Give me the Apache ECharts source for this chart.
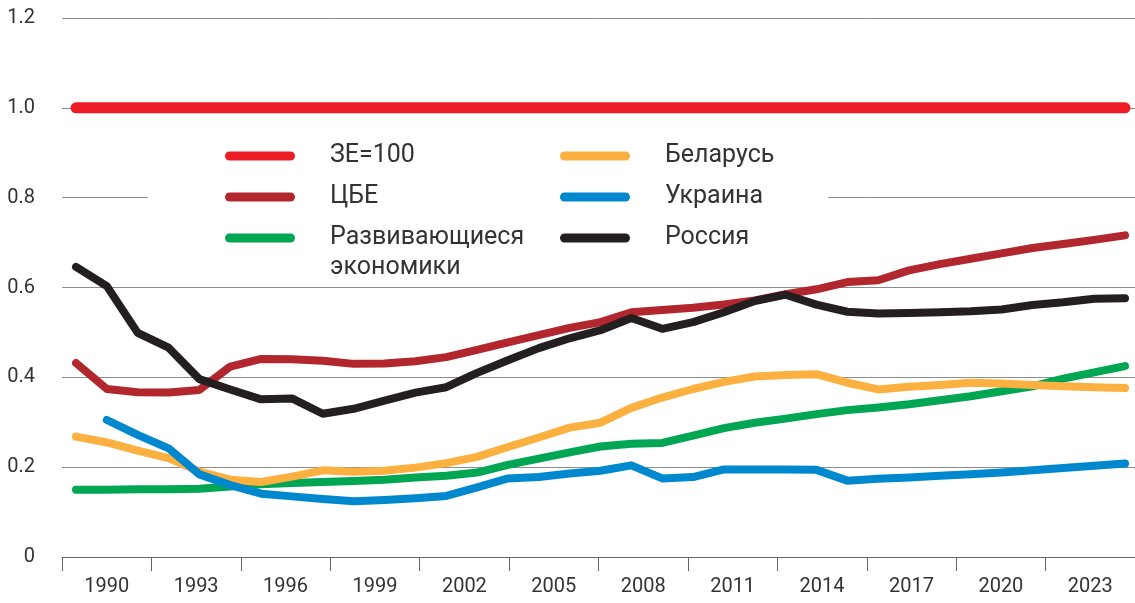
<!DOCTYPE html>
<html>
<head>
<meta charset="utf-8">
<script src="https://cdn.jsdelivr.net/npm/echarts@6/dist/echarts.min.js"></script>
<style>
  html, body { margin: 0; padding: 0; background: #fff; }
  #chart { width: 1135px; height: 603px; }
</style>
</head>
<body>
<div id="chart"></div>
<script>
// годы наблюдений
const years = [1990, 1991, 1992, 1993, 1994, 1995, 1996, 1997, 1998, 1999,
  2000, 2001, 2002, 2003, 2004, 2005, 2006, 2007, 2008, 2009,
  2010, 2011, 2012, 2013, 2014, 2015, 2016, 2017, 2018, 2019,
  2020, 2021, 2022, 2023, 2024]

// подписи оси X
const xTickLabels = ['1990', '1993', '1996', '1999', '2002', '2005',
  '2008', '2011', '2014', '2017', '2020', '2023']

const ze100 = [1, 1, 1, 1, 1, 1, 1, 1, 1, 1, 1, 1, 1, 1, 1, 1, 1, 1,
  1, 1, 1, 1, 1, 1, 1, 1, 1, 1, 1, 1, 1, 1, 1, 1, 1]

const cbe = [0.432, 0.374, 0.367, 0.366, 0.372, 0.424, 0.441, 0.440, 0.437, 0.430,
  0.431, 0.436, 0.445, 0.461, 0.478, 0.494, 0.510, 0.523, 0.545, 0.550,
  0.555, 0.562, 0.571, 0.585, 0.596, 0.612, 0.616, 0.638, 0.652, 0.664,
  0.676, 0.688, 0.697, 0.706, 0.716]

const developing = [0.150, 0.150, 0.151, 0.151, 0.152, 0.157, 0.162, 0.165, 0.167, 0.169,
  0.172, 0.177, 0.181, 0.188, 0.205, 0.219, 0.233, 0.246, 0.252, 0.254,
  0.270, 0.287, 0.299, 0.308, 0.318, 0.327, 0.333, 0.340, 0.349, 0.358,
  0.369, 0.380, 0.397, 0.411, 0.425]

const belarus = [0.268, 0.255, 0.237, 0.220, 0.190, 0.172, 0.167, 0.179, 0.193, 0.190,
  0.192, 0.199, 0.209, 0.223, 0.245, 0.266, 0.288, 0.299, 0.332, 0.355,
  0.374, 0.390, 0.402, 0.405, 0.407, 0.388, 0.373, 0.379, 0.383, 0.388,
  0.386, 0.383, 0.380, 0.378, 0.376]

const ukraine = [null, 0.305, 0.272, 0.242, 0.184, 0.160, 0.141, 0.135, 0.129, 0.124,
  0.127, 0.131, 0.136, 0.155, 0.175, 0.178, 0.186, 0.192, 0.204, 0.175,
  0.178, 0.195, 0.195, 0.195, 0.194, 0.170, 0.174, 0.177, 0.181, 0.184,
  0.188, 0.193, 0.198, 0.203, 0.208]

const russia = [0.646, 0.603, 0.499, 0.466, 0.396, 0.373, 0.351, 0.353, 0.319, 0.330,
  0.348, 0.366, 0.378, 0.410, 0.438, 0.465, 0.487, 0.505, 0.532, 0.508,
  0.523, 0.545, 0.570, 0.584, 0.562, 0.546, 0.542, 0.543, 0.545, 0.547,
  0.551, 0.561, 0.567, 0.575, 0.576]

const FONT = 'Roboto, "Noto Sans", sans-serif'
const TEXT_COLOR = '#333'
const LEGEND_ICON = 'path://M4.5,0 L65.5,0 A4.5,4.5 0 0 1 65.5,9 L4.5,9 A4.5,4.5 0 0 1 4.5,0 Z'

// пары [год, значение]
const toPairs = (values) => years.map((y, i) => [y, values[i]])

const makeSeries = (name, values, color, width) => ({
  name: name,
  type: 'line',
  xAxisIndex: 0,
  data: toPairs(values),
  showSymbol: false,
  symbol: 'none',
  connectNulls: false,
  silent: true,
  itemStyle: { color: color, borderWidth: 0 },
  lineStyle: { color: color, width: width, cap: 'round', join: 'round' }
})

const legendBase = {
  orient: 'vertical',
  selectedMode: false,
  padding: 0,
  itemWidth: 70,
  itemHeight: 9,
  itemGap: 11,
  icon: LEGEND_ICON,
  textStyle: {
    fontFamily: FONT,
    fontSize: 25,
    lineHeight: 30,
    color: TEXT_COLOR,
    padding: [0, 0, 0, 30]
  }
}

const chart = echarts.init(document.getElementById('chart'), null, { renderer: 'canvas' })

chart.setOption({
  animation: false,
  backgroundColor: '#fff',
  grid: { left: 62, right: 0, top: 18, bottom: 46 },
  xAxis: [
    {
      // скрытая ось значений для точек данных
      type: 'value',
      min: 1989.546,
      max: 2024.324,
      position: 'bottom',
      show: false
    },
    {
      // видимая ось с подписями через 3 года
      type: 'category',
      data: xTickLabels,
      position: 'bottom',
      boundaryGap: true,
      axisLine: { lineStyle: { color: '#666', width: 1 } },
      axisTick: { show: true, interval: 0, length: 14, lineStyle: { color: '#666' } },
      axisLabel: {
        interval: 0,
        margin: 20,
        fontFamily: FONT,
        fontSize: 20,
        color: TEXT_COLOR
      },
      splitLine: { show: false }
    }
  ],
  yAxis: {
    type: 'value',
    min: 0,
    max: 1.2,
    interval: 0.2,
    axisLine: { show: false },
    axisTick: { show: false },
    axisLabel: {
      margin: 27,
      fontFamily: FONT,
      fontSize: 20,
      color: TEXT_COLOR,
      padding: [0, 0, 3, 0],
      formatter: (v) => (v === 0 ? '0' : v.toFixed(1))
    },
    splitLine: { lineStyle: { color: '#8c8c8c', width: 1 } }
  },
  graphic: [
    {
      // белая подложка под легендой
      type: 'rect',
      z: 1,
      silent: true,
      shape: { x: 148, y: 132, width: 680, height: 150 },
      style: { fill: '#fff' }
    }
  ],
  legend: [
    Object.assign({}, legendBase, {
      left: 225, top: 141,
      data: ['ЗЕ=100', 'ЦБЕ']
    }),
    Object.assign({}, legendBase, {
      // пустая первая строка, чтобы значок стоял напротив первой строки подписи
      left: 225, top: 193,
      data: ['Развивающиеся экономики'],
      formatter: () => '\nРазвивающиеся\nэкономики'
    }),
    Object.assign({}, legendBase, {
      left: 560, top: 141,
      data: ['Беларусь', 'Украина', 'Россия']
    })
  ],
  series: [
    makeSeries('ЗЕ=100', ze100, '#ED1C24', 11),
    makeSeries('ЦБЕ', cbe, '#B2262D', 8),
    makeSeries('Развивающиеся экономики', developing, '#00A651', 8),
    makeSeries('Беларусь', belarus, '#FBB040', 8),
    makeSeries('Украина', ukraine, '#0088CE', 8),
    makeSeries('Россия', russia, '#231F20', 8)
  ]
})
</script>
</body>
</html>
